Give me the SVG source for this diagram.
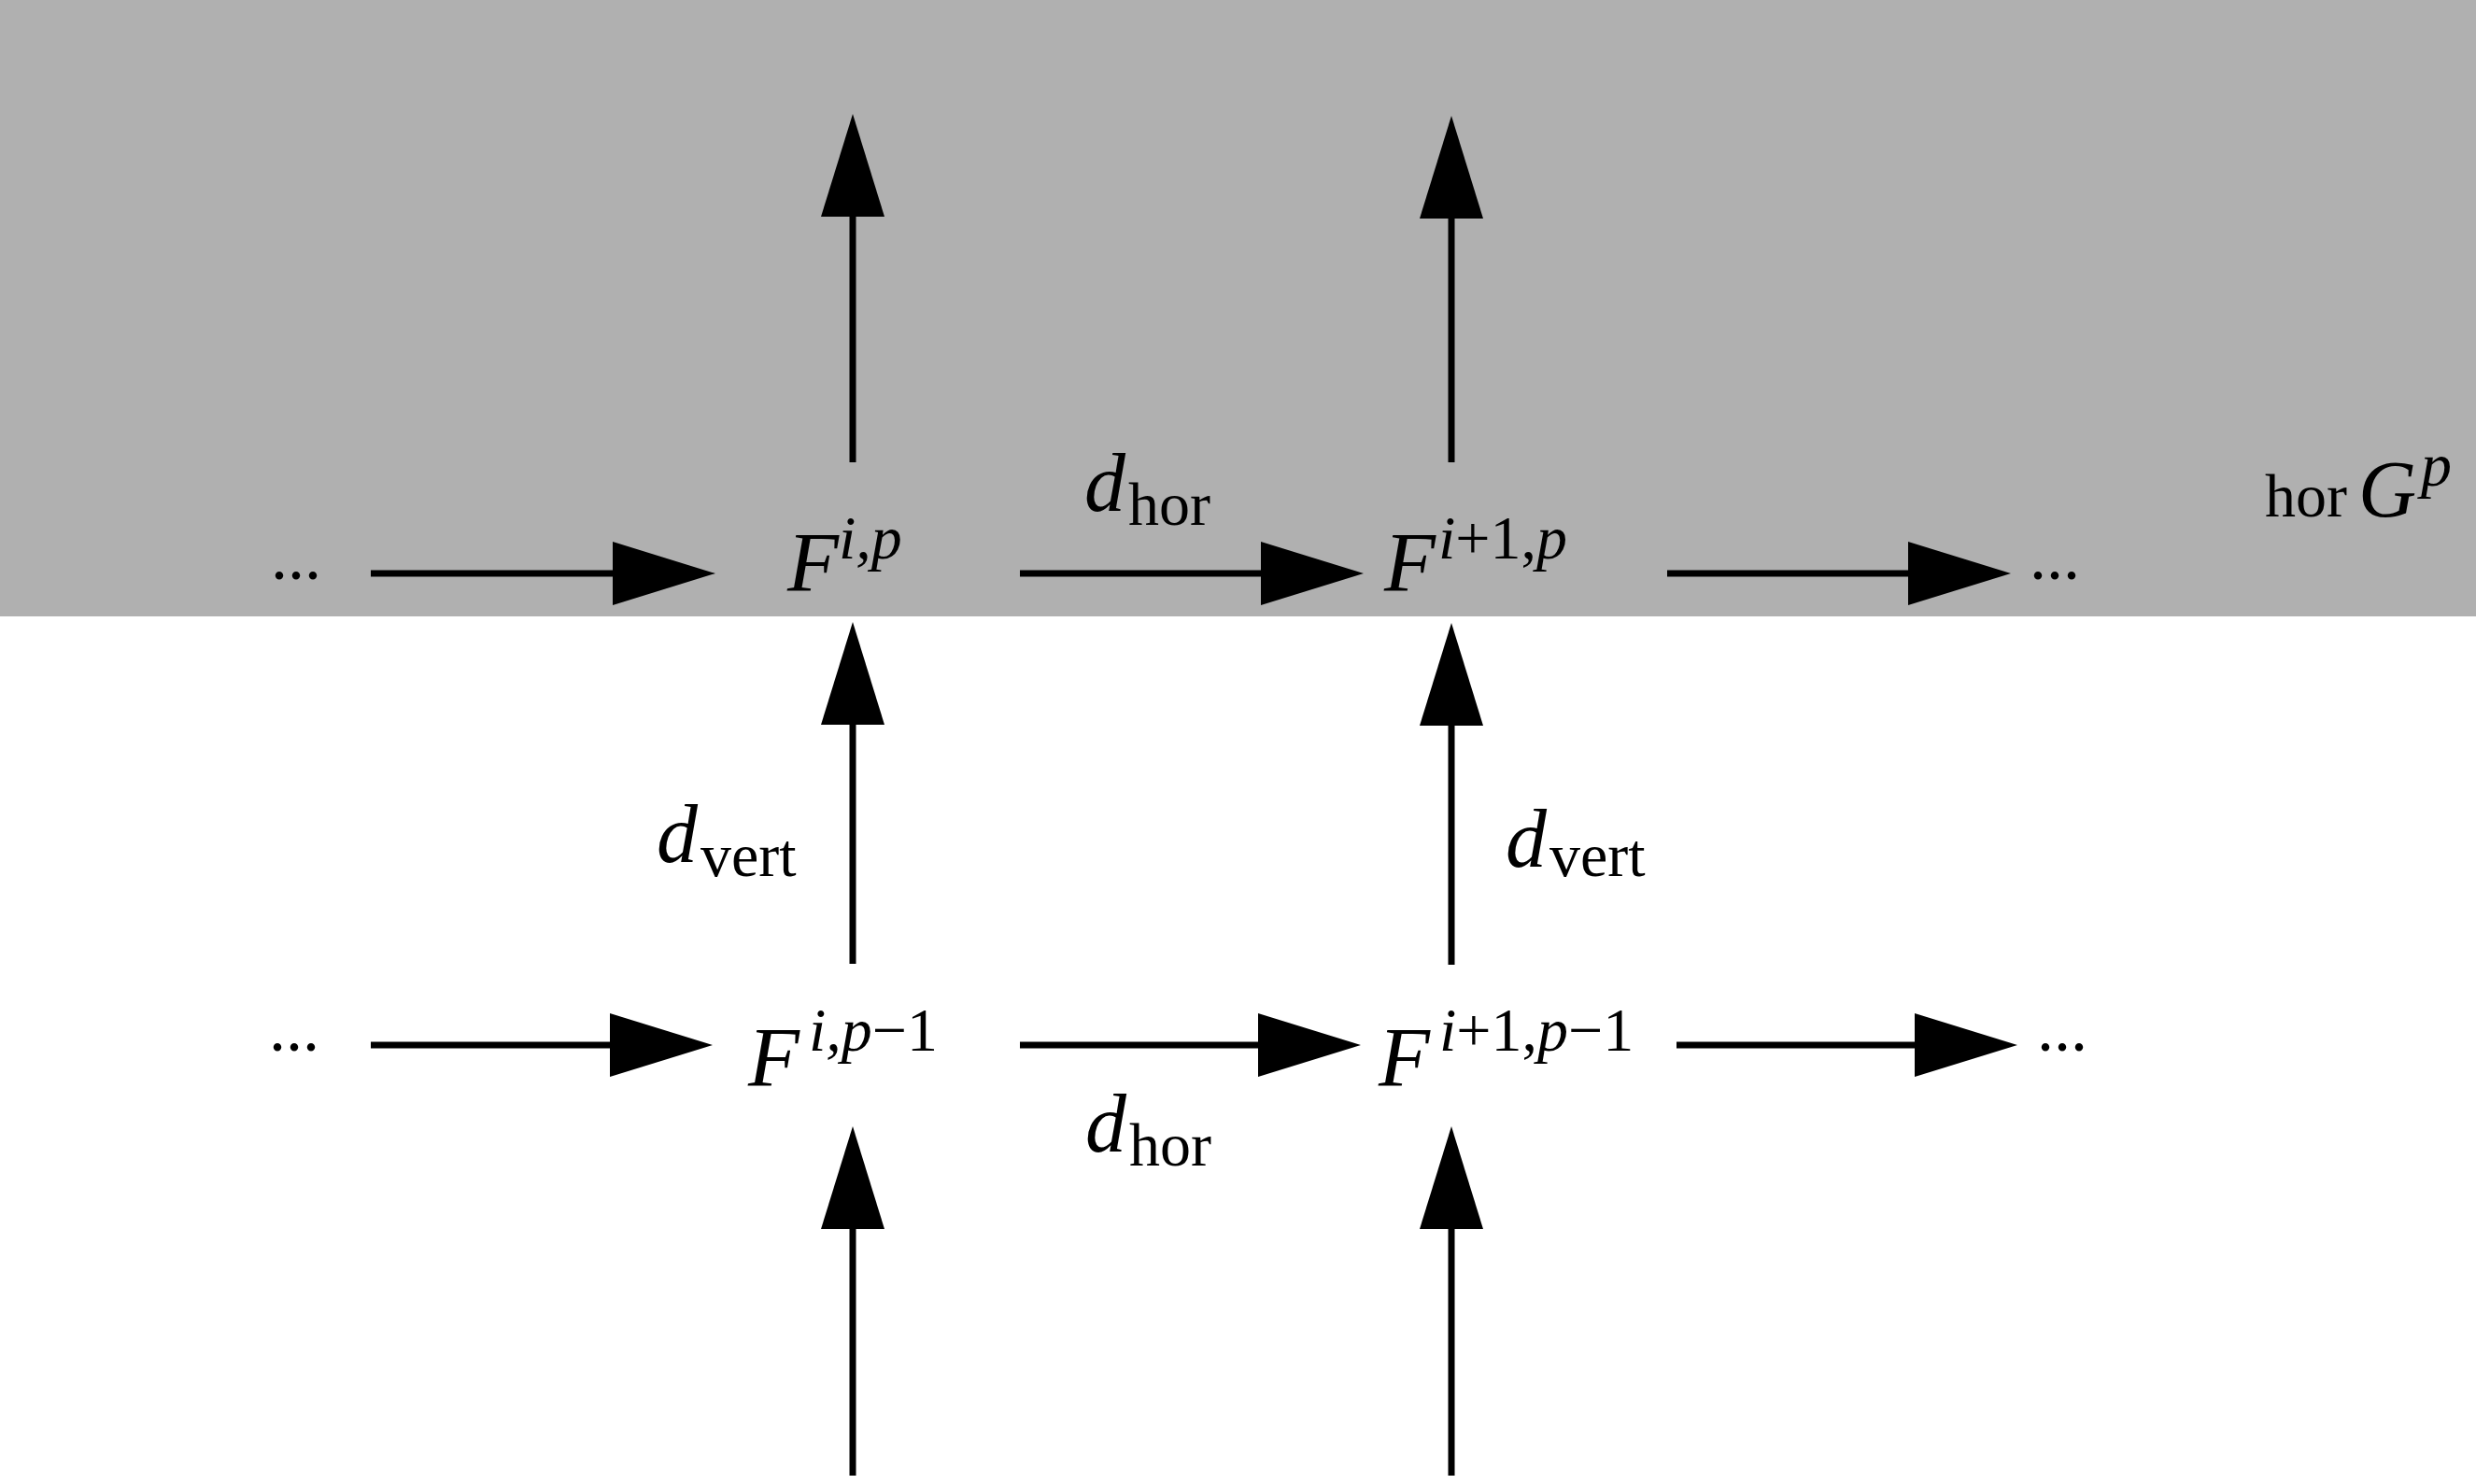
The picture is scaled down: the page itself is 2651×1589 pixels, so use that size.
<svg xmlns="http://www.w3.org/2000/svg" width="2651" height="1589" viewBox="0 0 2651 1589">
<style>
text { font-family: "Liberation Serif", "Times New Roman", serif; fill: #000; }
.it { font-style: italic; }
.main { font-size: 90px; }
.sup { font-size: 66px; }
.lab { font-size: 88px; }
.sub { font-size: 66px; }
.dots { font-size: 72px; }
.conn { stroke: #000; stroke-width: 7; fill: none; }
</style>
<defs>
<marker id="ah" viewBox="0 0 110 68" refX="0" refY="34" markerWidth="110" markerHeight="68" markerUnits="userSpaceOnUse" orient="auto">
<path d="M0,0 L110,34 L0,68 Z" fill="#000"/>
</marker>
</defs>
<rect x="0" y="0" width="2651" height="1589" fill="#ffffff"/>
<rect id="band" x="0" y="0" width="2651" height="660" fill="#b0b0b0"/>

<g id="connectors">
<line class="conn" x1="397" y1="614" x2="656" y2="614" marker-end="url(#ah)"/>
<line class="conn" x1="1092" y1="614" x2="1350" y2="614" marker-end="url(#ah)"/>
<line class="conn" x1="1785" y1="614" x2="2043" y2="614" marker-end="url(#ah)"/>
<line class="conn" x1="397" y1="1119" x2="653" y2="1119" marker-end="url(#ah)"/>
<line class="conn" x1="1092" y1="1119" x2="1347" y2="1119" marker-end="url(#ah)"/>
<line class="conn" x1="1795" y1="1119" x2="2050" y2="1119" marker-end="url(#ah)"/>
<line class="conn" x1="913" y1="495" x2="913" y2="232" marker-end="url(#ah)"/>
<line class="conn" x1="913" y1="1032" x2="913" y2="776" marker-end="url(#ah)"/>
<line class="conn" x1="913" y1="1580" x2="913" y2="1316" marker-end="url(#ah)"/>
<line class="conn" x1="1554" y1="495" x2="1554" y2="234" marker-end="url(#ah)"/>
<line class="conn" x1="1554" y1="1033" x2="1554" y2="777" marker-end="url(#ah)"/>
<line class="conn" x1="1554" y1="1580" x2="1554" y2="1316" marker-end="url(#ah)"/>
</g>

<g id="dots-r1-left"><text class="dots" x="290" y="620">...</text></g>
<g id="dots-r1-right"><text class="dots" x="2173" y="620">...</text></g>
<g id="dots-r2-left"><text class="dots" x="288" y="1125">...</text></g>
<g id="dots-r2-right"><text class="dots" x="2181" y="1125">...</text></g>

<g id="node-Fip">
<text class="main it" x="843" y="633">F</text>
<text class="sup it" x="898" y="598">i,p</text>
</g>
<g id="node-Fi1p">
<text class="main it" x="1482" y="633">F</text>
<text class="sup it" x="1540" y="598">i<tspan font-style="normal">+1,</tspan>p</text>
</g>
<g id="node-Fip1">
<text class="main it" x="801" y="1163">F</text>
<text class="sup it" x="866" y="1125">i,p<tspan font-style="normal">−1</tspan></text>
</g>
<g id="node-Fi1p1">
<text class="main it" x="1476" y="1163">F</text>
<text class="sup it" x="1541" y="1125">i<tspan font-style="normal">+1,</tspan>p<tspan font-style="normal">−1</tspan></text>
</g>

<g id="label-dhor-top">
<text class="lab it" x="1161" y="547">d</text>
<text class="sub" x="1208" y="562">hor</text>
</g>
<g id="label-dhor-bottom">
<text class="lab it" x="1162" y="1233">d</text>
<text class="sub" x="1209" y="1248">hor</text>
</g>
<g id="label-dvert-1">
<text class="lab it" x="703" y="923">d</text>
<text class="sub" x="750" y="938">vert</text>
</g>
<g id="label-dvert-2">
<text class="lab it" x="1612" y="928">d</text>
<text class="sub" x="1659" y="938">vert</text>
</g>
<g id="label-horGp">
<text class="sub" x="2425" y="553">hor</text>
<text class="it" font-size="86" x="2525" y="553">G</text>
<text class="sup it" x="2592" y="520">p</text>
</g>
</svg>
